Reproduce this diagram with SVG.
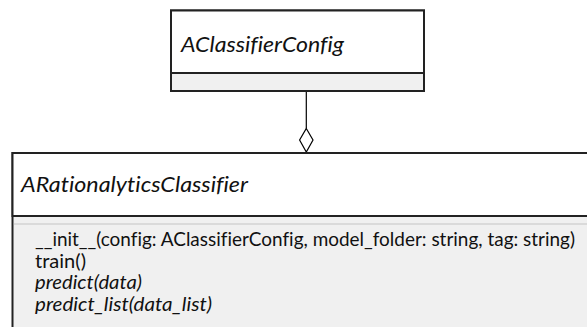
<svg xmlns="http://www.w3.org/2000/svg" width="587" height="327" viewBox="0 0 587 327">
<style>
.box{fill:#ffffff;stroke:#222222;stroke-width:2}
.comp{fill:#f0f0f0;stroke:#222222;stroke-width:2}
text{font-variant-ligatures:none}
.title{font-family:Lato,"Liberation Sans",sans-serif;font-style:italic;font-size:22px;fill:#111111}
.m{font-family:Lato,"Liberation Sans",sans-serif;font-size:19px;fill:#111111}
.it{font-style:italic}
.conn{stroke:#000000;stroke-width:1.2;fill:none}
</style>
<rect x="0" y="0" width="587" height="327" fill="#ffffff"/>
<g id="connectors">
<line class="conn" x1="306.3" y1="91" x2="306.3" y2="128.5"/>
<polygon points="306.3,128.5 313,140 306.3,152 299.6,140" fill="#ffffff" stroke="#000000" stroke-width="1.2"/>
</g>
<g id="AClassifierConfig">
<rect class="comp" x="171" y="10.5" width="253" height="80.5"/>
<rect class="box" x="171" y="10.5" width="253" height="62.5"/>
<text class="title" x="181" y="52" textLength="163" lengthAdjust="spacingAndGlyphs">AClassifierConfig</text>
</g>
<g id="ARationalyticsClassifier">
<rect class="comp" x="12.5" y="153" width="590" height="200"/>
<rect class="box" x="12.5" y="153" width="590" height="63"/>
<line x1="13.5" y1="224" x2="587" y2="224" stroke="#999999" stroke-width="1" stroke-dasharray="1,1"/>
<text class="title" x="21" y="192" textLength="227" lengthAdjust="spacingAndGlyphs">ARationalyticsClassifier</text>
<text class="m" x="35" y="246" textLength="540" lengthAdjust="spacingAndGlyphs">__init__(config: AClassifierConfig, model_folder: string, tag: string)</text>
<text class="m" x="35" y="267.5" textLength="51" lengthAdjust="spacingAndGlyphs">train()</text>
<text class="m it" x="35" y="289" textLength="107" lengthAdjust="spacingAndGlyphs">predict(data)</text>
<text class="m it" x="35" y="310.5" textLength="177" lengthAdjust="spacingAndGlyphs">predict_list(data_list)</text>
</g>
</svg>
